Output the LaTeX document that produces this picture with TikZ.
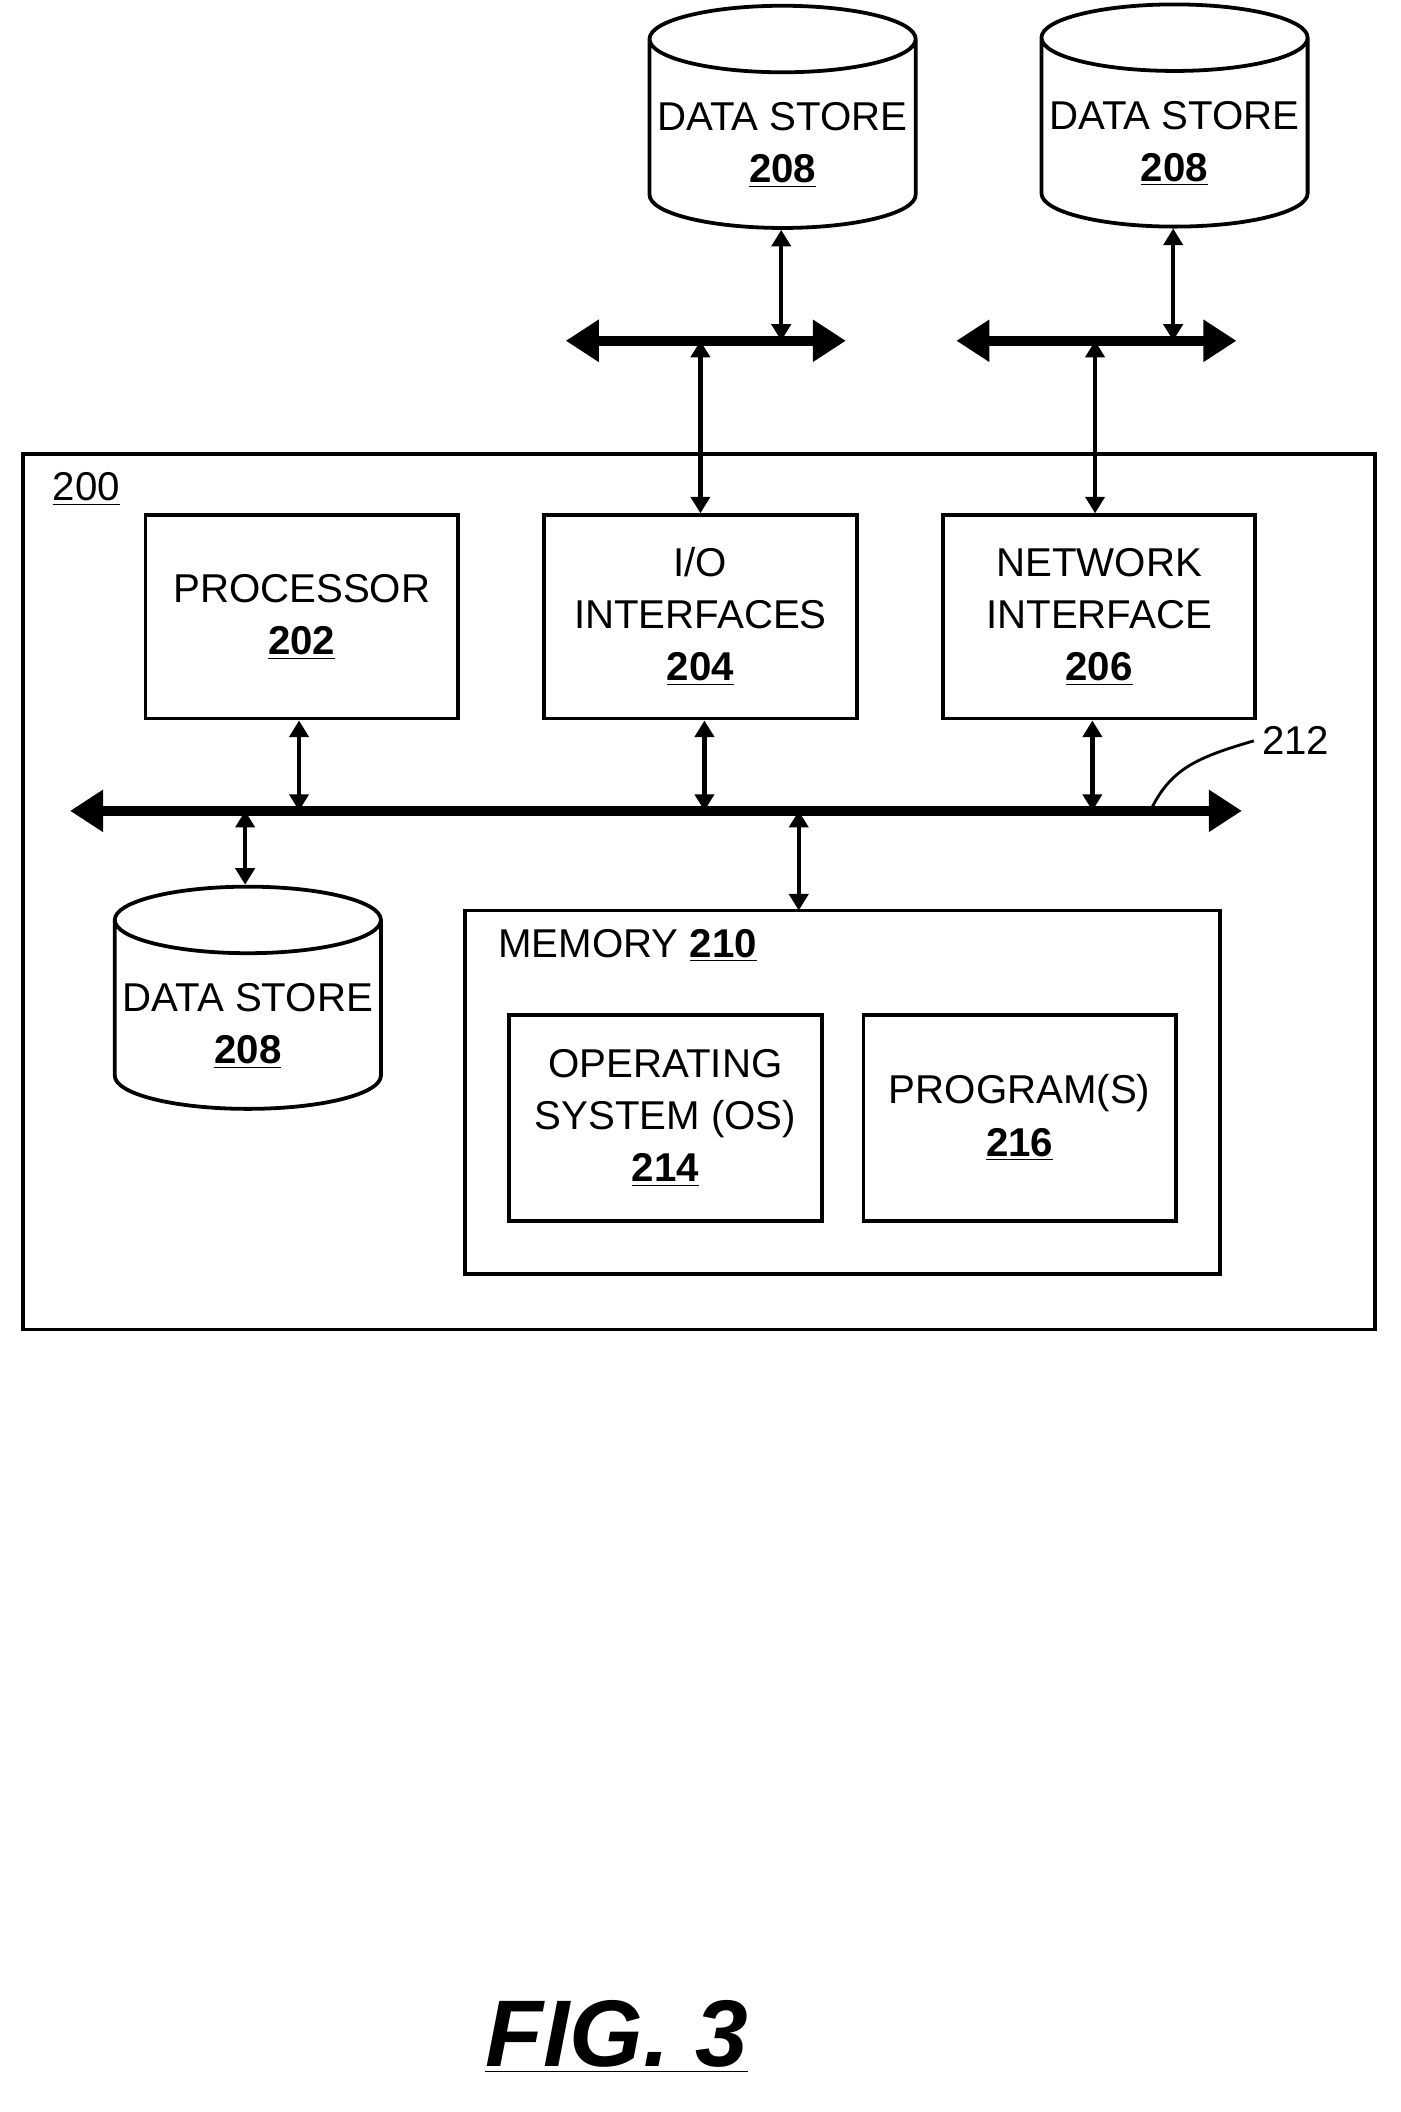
\documentclass[tikz,border=0pt]{standalone}
\usepackage{fontspec}
\setmainfont{Liberation Sans}
\usetikzlibrary{shapes.geometric,arrows.meta,positioning}
\tikzset{
  box/.style={draw, line width=1.6pt, align=center, font=\fontsize{17}{22}\selectfont},
  store/.style={draw, line width=1.6pt, cylinder, shape border rotate=90, aspect=0.25,
    minimum width=3.92cm, minimum height=3.3cm, align=center, font=\fontsize{17}{22}\selectfont},
  bus/.style={line width=4pt, {Triangle[length=14pt,width=17pt]}-{Triangle[length=14pt,width=17pt]}},
  link/.style={line width=1.8pt, {Triangle[length=7pt,width=8pt]}-{Triangle[length=7pt,width=8pt]}}
}
\newcommand{\num}[1]{\underline{\textbf{#1}}}
\begin{document}
\begin{tikzpicture}[x=0.02cm,y=-0.02cm]
\useasboundingbox (0,0) rectangle (1040,1568);
% outer system box
\draw[line width=1.6pt] (17,337) rectangle (1021,987);
\node[font=\fontsize{17}{20}\selectfont] (lbl200) at (64,363) {\underline{200}};
% components
\node[box, minimum width=4.64cm, minimum height=3.02cm] (proc) at (224,458) {PROCESSOR\\\num{202}};
\node[box, minimum width=4.64cm, minimum height=3.02cm] (io) at (520,458) {I/O\\INTERFACES\\\num{204}};
\node[box, minimum width=4.64cm, minimum height=3.02cm] (net) at (816,458) {NETWORK\\INTERFACE\\\num{206}};
\node[store] (dsin) at (184,758) {\\[-6pt]DATA STORE\\\num{208}};
\node[store] (dsa) at (581,104) {\\[-6pt]DATA STORE\\\num{208}};
\node[store] (dsb) at (872,103) {\\[-6pt]DATA STORE\\\num{208}};
% memory
\draw[line width=1.6pt] (345,676) rectangle (906,946);
\node[font=\fontsize{17}{20}\selectfont] (memlbl) at (466,702) {MEMORY \num{210}};
\node[box, minimum width=4.64cm, minimum height=3.06cm] (os) at (494,830) {OPERATING\\SYSTEM (OS)\\\num{214}};
\node[box, minimum width=4.64cm, minimum height=3.06cm] (prog) at (757,830) {PROGRAM(S)\\\num{216}};
\coordinate (memtop) at (593,676);
% main bus 212
\coordinate (busl) at (52,602);
\coordinate (busr) at (922,602);
\draw[bus] (busl) -- (busr);
\node[font=\fontsize{17}{20}\selectfont] (lbl212) at (962,550) {212};
\draw[line width=1.2pt] (855,600) .. controls (870,570) and (890,562) .. (lbl212.west);
\draw[link] (proc.south -| 222,0) -- (222,602);
\draw[link] (io.south -| 523,0) -- (523,602);
\draw[link] (net.south -| 811,0) -- (811,602);
\draw[link] (182,602) -- (dsin.north -| 182,0);
\draw[link] (593,602) -- (memtop);
% external buses
\draw[bus] (420,253) -- (628,253);
\draw[bus] (710,253) -- (918,253);
\draw[link] (dsa.south -| 580,0) -- (580,253);
\draw[link] (dsb.south -| 871,0) -- (871,253);
\draw[link] (520,253) -- (io.north -| 520,0);
\draw[link] (813,253) -- (net.north -| 813,0);
% caption
\node[font=\fontsize{40}{44}\selectfont\bfseries\itshape] (fig) at (458,1512) {\underline{FIG. 3}};
\end{tikzpicture}
\end{document}
